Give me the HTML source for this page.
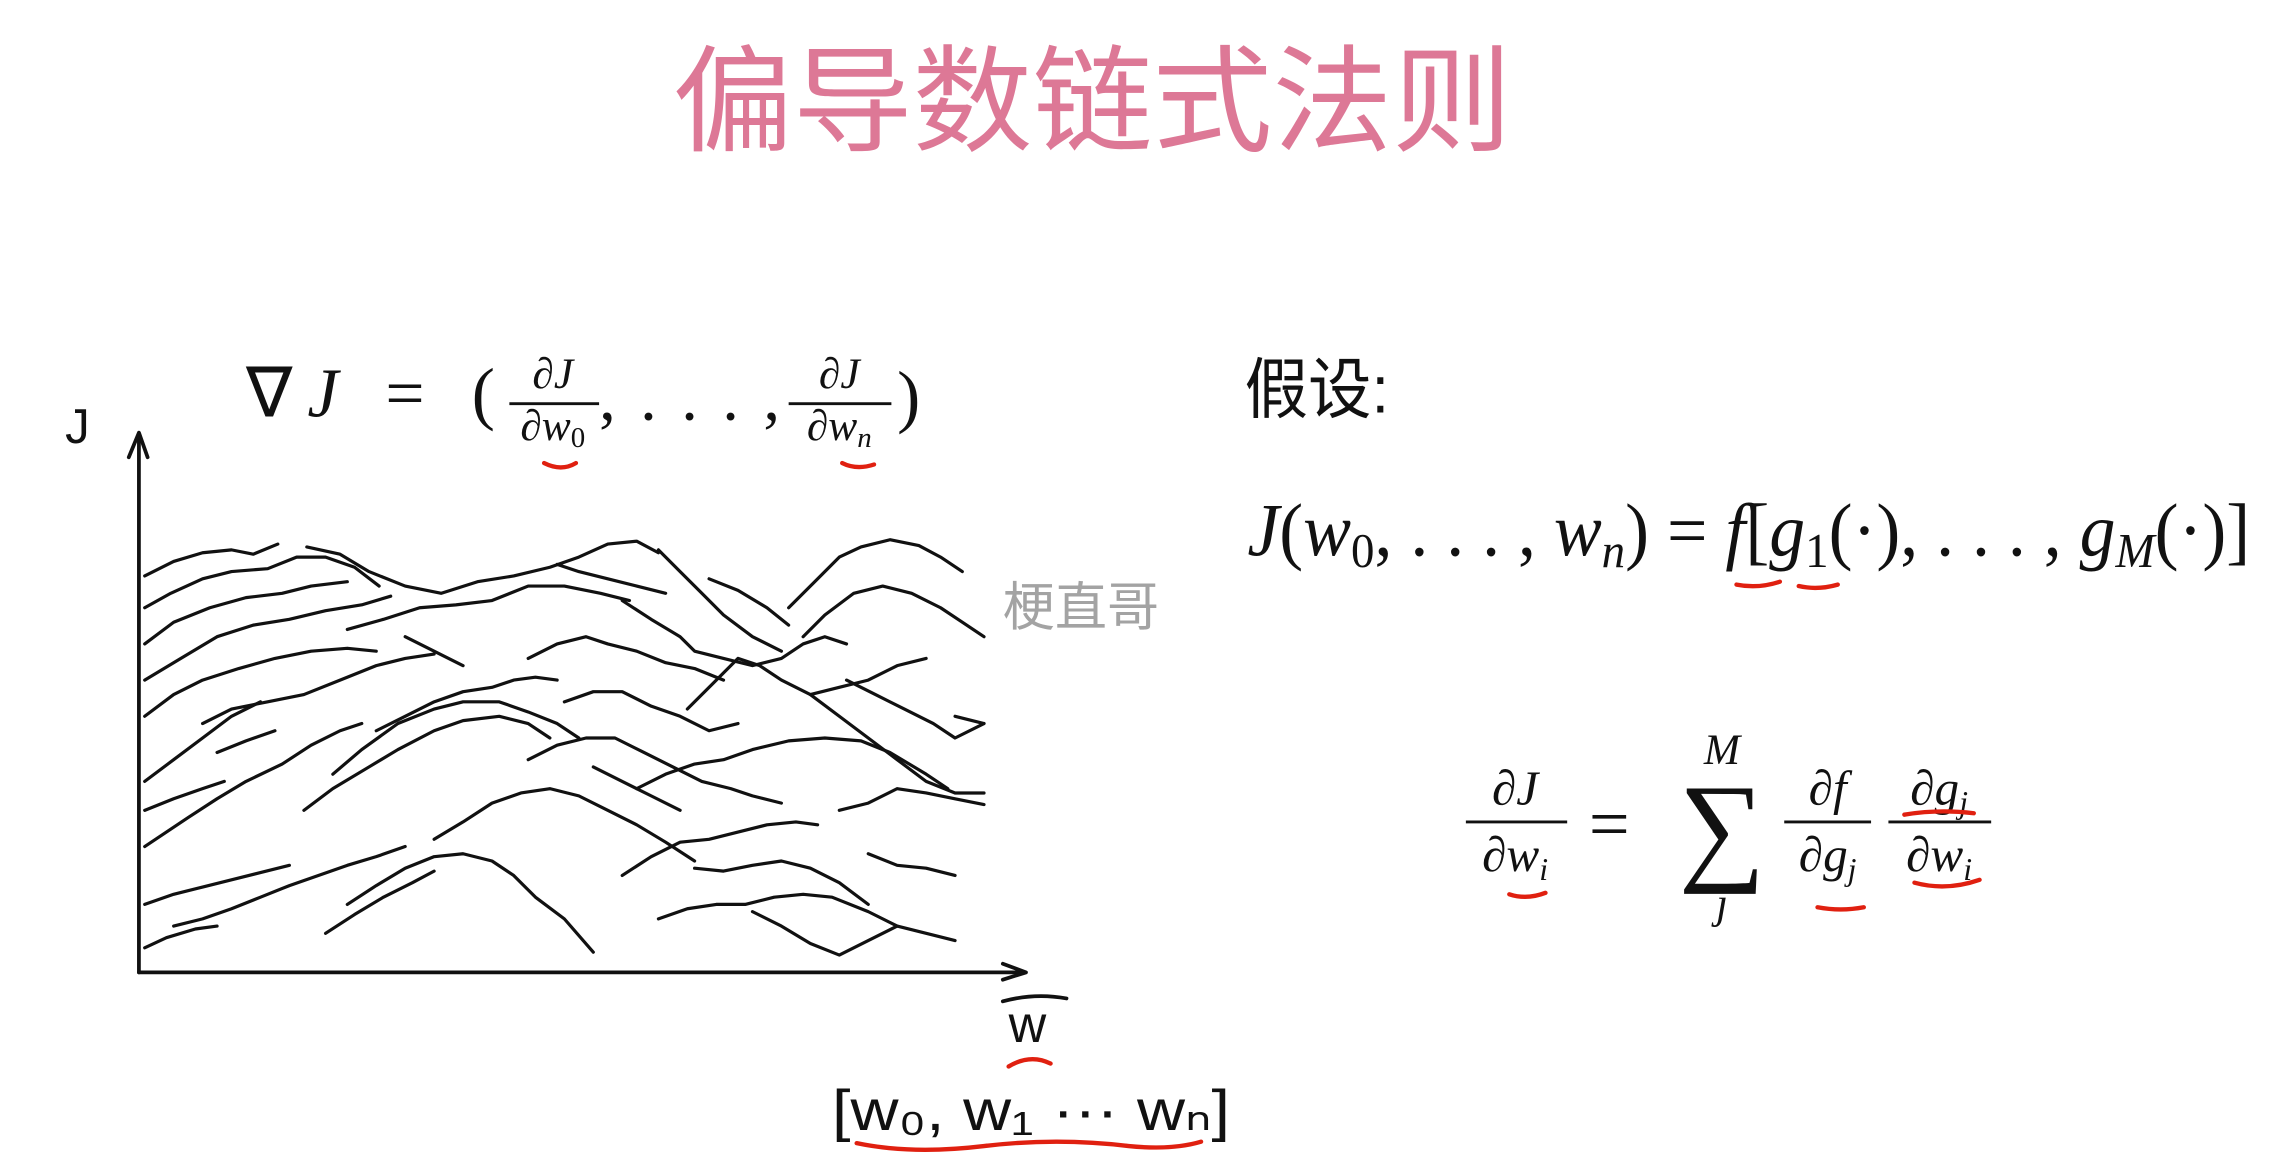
<!DOCTYPE html>
<html><head><meta charset="utf-8"><style>
html,body{margin:0;padding:0;background:#fff;width:2269px;height:1164px;overflow:hidden}
svg{display:block}
.m{font-family:"Liberation Serif",serif}
.i{font-style:italic}
</style></head><body>
<svg width="2269" height="1164" viewBox="0 0 1568 804.4" preserveAspectRatio="none" xmlns="http://www.w3.org/2000/svg">
<rect width="1568" height="805" fill="#fff"/>
<text x="465" y="98" font-size="80" fill="#dd7896" textLength="580" lengthAdjust="spacingAndGlyphs" font-family="'Liberation Sans','Noto Sans CJK SC',sans-serif">偏导数链式法则</text>

<g stroke="#111" stroke-width="2.6" fill="none" stroke-linecap="round" stroke-linejoin="round">
<path d="M96,672 L96,300"/>
<path d="M89,316 L96,299 L102,316"/>
<path d="M96,672 L708,672"/>
<path d="M693,666 L709,672 L693,677"/>
<path d="M693,692 Q715,686 737,690"/>
</g>
<text x="45" y="306" font-size="34" font-family="'Liberation Sans',sans-serif" fill="#111">J</text>
<text x="697" y="720" font-size="36" font-family="'Liberation Sans',sans-serif" fill="#111">w</text>
<text x="575" y="781" font-size="40" font-family="'Liberation Sans',sans-serif" fill="#111" textLength="275" lengthAdjust="spacingAndGlyphs">[w₀, w₁ ··· wₙ]</text>

<g stroke="#111" stroke-width="2.2" fill="none" stroke-linecap="round" stroke-linejoin="round">
<polyline points="100,398 120,388 140,382 160,380 175,383 192,376"/>
<polyline points="100,420 118,410 140,400 160,395 185,393 205,385 225,385 245,392 262,405"/>
<polyline points="212,378 235,383 255,395 280,405 305,410 330,402 355,398 380,392 400,385 420,376 440,374 455,382"/>
<polyline points="455,380 470,395 485,410 500,425 520,440 540,450"/>
<polyline points="385,390 400,395 420,400 440,405 460,410"/>
<polyline points="100,445 120,430 145,420 170,413 195,410 215,405 240,402"/>
<polyline points="100,470 125,455 150,440 175,432 200,428 225,422 250,418 270,412"/>
<polyline points="240,435 265,428 290,420 315,418 340,415 365,405 390,405 415,410 435,415"/>
<polyline points="430,415 450,428 470,440 480,450 500,455 520,460 540,455 555,445 570,440 585,445"/>
<polyline points="545,420 565,400 580,385 595,378 615,373 635,377 650,385 665,395"/>
<polyline points="555,440 570,425 590,410 610,405 630,410 650,420 665,430 680,440"/>
<polyline points="100,495 120,480 140,470 165,462 190,455 215,450 240,448 260,450"/>
<polyline points="140,500 160,490 185,485 210,480 235,470 260,460 280,455 300,452"/>
<polyline points="260,505 280,495 300,485 320,478 340,475 355,470 370,468 385,470"/>
<polyline points="365,455 385,445 405,440 420,445 440,450 460,458 480,462 500,470"/>
<polyline points="100,540 120,525 140,510 160,495 180,485"/>
<polyline points="230,535 250,518 275,500 300,490 320,485 345,485 365,492 385,500 400,510"/>
<polyline points="390,485 410,478 430,478 450,488 470,495 490,505 510,500"/>
<polyline points="475,490 495,470 510,455 525,460 540,470 560,480 580,475 600,470 620,460 640,455"/>
<polyline points="585,470 605,480 625,490 645,500 660,510 680,500"/>
<polyline points="100,585 115,575 130,565 150,552 170,540 195,528 215,515 235,505 250,500"/>
<polyline points="210,560 230,545 255,530 275,518 300,505 320,498 345,495 365,500 380,510"/>
<polyline points="365,525 385,515 405,510 425,510 445,520 465,530 485,540 505,545 520,550 540,555"/>
<polyline points="440,545 460,535 480,528 500,525 520,518 545,512 570,510 595,512 615,520 640,535 655,545"/>
<polyline points="100,625 120,618 140,613 160,608 180,603 200,598"/>
<polyline points="120,640 140,635 160,628 180,620 200,612 220,605 240,598 260,592 280,585"/>
<polyline points="100,655 115,648 135,642 150,640"/>
<polyline points="240,625 260,612 280,600 300,592 320,590 340,595 355,605 370,620 390,635 410,658"/>
<polyline points="225,645 245,632 265,620 285,610 300,602"/>
<polyline points="300,580 320,568 340,555 360,548 380,545 400,550 420,560 440,570 460,582 480,595"/>
<polyline points="430,605 450,592 470,582 490,580 510,575 530,570 550,568 565,570"/>
<polyline points="480,600 500,602 520,598 540,595 560,600 580,610 600,625"/>
<polyline points="455,635 475,628 495,625 515,625 535,620 555,618 575,620 600,630 620,640"/>
<polyline points="580,560 600,555 620,545 640,548 660,552 680,556"/>
<polyline points="560,480 580,495 600,510 620,525 640,540 660,548 680,548"/>
<polyline points="490,400 510,408 530,420 545,432"/>
<polyline points="280,440 300,450 320,460"/>
<polyline points="100,560 120,552 140,545 155,540"/>
<polyline points="410,530 430,540 450,550 470,560"/>
<polyline points="520,630 540,640 560,652 580,660 600,650 620,640 640,645 660,650"/>
<polyline points="150,520 170,512 190,505"/>
<polyline points="600,590 620,598 640,600 660,605"/>
<polyline points="660,495 680,500"/>
</g>

<g class="m" fill="#111">
<text x="170" y="288" font-size="48" textLength="172" lengthAdjust="spacing"><tspan>∇</tspan><tspan class="i">J</tspan><tspan> = (</tspan></text>
<text x="382" y="268" font-size="30" text-anchor="middle">∂<tspan class="i">J</tspan></text>
<line x1="352" y1="279" x2="414" y2="279" stroke="#111" stroke-width="2"/>
<text x="382" y="304" font-size="30" text-anchor="middle">∂<tspan class="i">w</tspan><tspan font-size="20" dy="5">0</tspan></text>
<text x="414" y="290" font-size="46" textLength="125" lengthAdjust="spacing">, . . . ,</text>
<text x="580" y="268" font-size="30" text-anchor="middle">∂<tspan class="i">J</tspan></text>
<line x1="545" y1="279" x2="616" y2="279" stroke="#111" stroke-width="2"/>
<text x="580" y="304" font-size="30" text-anchor="middle">∂<tspan class="i">w</tspan><tspan font-size="20" dy="5" class="i">n</tspan></text>
<text x="620" y="290" font-size="48">)</text>
</g>

<text x="860" y="285" font-size="46" fill="#111" textLength="100" lengthAdjust="spacingAndGlyphs" font-family="'Liberation Sans','Noto Sans CJK SC',sans-serif">假设:</text>

<text x="862" y="384" font-size="52" class="m" fill="#111" textLength="693" lengthAdjust="spacingAndGlyphs"><tspan class="i">J</tspan>(<tspan class="i">w</tspan><tspan font-size="34" dy="8">0</tspan><tspan dy="-8">, . . . , </tspan><tspan class="i">w</tspan><tspan font-size="34" dy="8" class="i">n</tspan><tspan dy="-8">) = </tspan><tspan class="i">f</tspan>[<tspan class="i">g</tspan><tspan font-size="34" dy="8">1</tspan><tspan dy="-8">(·), . . . , </tspan><tspan class="i">g</tspan><tspan font-size="34" dy="8" class="i">M</tspan><tspan dy="-8">(·)]</tspan></text>

<text x="693" y="432" font-size="36" fill="#a3a3a3" font-family="'Liberation Sans','Noto Sans CJK SC',sans-serif">梗直哥</text>

<g class="m" fill="#111">
<text x="1047" y="556" font-size="34" text-anchor="middle">∂<tspan class="i">J</tspan></text>
<line x1="1013" y1="568" x2="1083" y2="568" stroke="#111" stroke-width="2"/>
<text x="1047" y="602" font-size="34" text-anchor="middle">∂<tspan class="i">w</tspan><tspan font-size="22" dy="6" class="i">i</tspan></text>
<text x="1098" y="586" font-size="50">=</text>
<text x="1190" y="528" font-size="30" text-anchor="middle" class="i">M</text>
<text x="1190" y="600" font-size="84" text-anchor="middle">∑</text>
<text x="1190" y="634" font-size="30" text-anchor="middle" class="i">j</text>
<text x="1263" y="556" font-size="34" text-anchor="middle">∂<tspan class="i">f</tspan></text>
<line x1="1233" y1="568" x2="1293" y2="568" stroke="#111" stroke-width="2"/>
<text x="1263" y="602" font-size="34" text-anchor="middle">∂<tspan class="i">g</tspan><tspan font-size="22" dy="6" class="i">j</tspan></text>
<text x="1340" y="556" font-size="34" text-anchor="middle">∂<tspan class="i">g</tspan><tspan font-size="22" dy="6" class="i">j</tspan></text>
<line x1="1305" y1="568" x2="1376" y2="568" stroke="#111" stroke-width="2"/>
<text x="1340" y="602" font-size="34" text-anchor="middle">∂<tspan class="i">w</tspan><tspan font-size="22" dy="6" class="i">i</tspan></text>
</g>

<g stroke="#e02010" stroke-width="3" fill="none" stroke-linecap="round">
<path d="M376,320 Q388,326 398,320"/>
<path d="M582,320 Q592,325 604,321"/>
<path d="M1200,404 Q1215,407 1230,402"/>
<path d="M1243,405 Q1256,408 1270,404"/>
<path d="M1043,618 Q1055,622 1068,617"/>
<path d="M1256,627 Q1272,630 1288,627"/>
<path d="M1323,610 Q1345,616 1368,608"/>
<path d="M1316,563 Q1340,559 1364,562"/>
<path d="M697,737 Q712,728 726,735"/>
<path d="M592,790 Q630,798 680,792 Q730,786 780,792 Q810,795 830,789"/>
</g>
</svg>
</body></html>
